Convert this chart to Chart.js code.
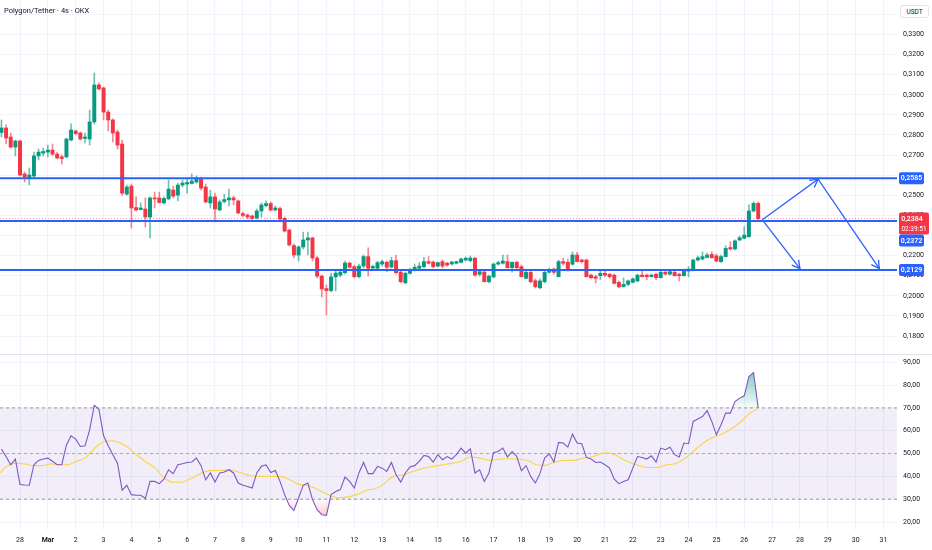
<!DOCTYPE html>
<html><head><meta charset="utf-8">
<script src="https://cdn.jsdelivr.net/npm/chart.js@4.4.0/dist/chart.umd.min.js"></script>
<style>
html,body{margin:0;padding:0;background:#fff;width:932px;height:550px;overflow:hidden;font-family:Roboto,"Noto Sans",sans-serif}
#top{position:absolute;left:0;top:0}
#bot{position:absolute;left:0;top:354px}
#sep{position:absolute;left:0;top:354px;width:932px;height:1px;background:#e0e3eb}
#title{position:absolute;left:4px;top:6px;font-size:7.5px;color:#131722;white-space:nowrap}
#unit{position:absolute;left:900px;top:5px;width:29px;height:13px;border:1px solid #e0e3eb;border-radius:3px;background:#fff;font-size:6.5px;color:#131722;text-align:center;line-height:13px;box-sizing:border-box}
</style></head><body>
<canvas id="top" width="932" height="354"></canvas>
<canvas id="bot" width="932" height="196"></canvas>
<div id="sep"></div>
<div id="title">Polygon/Tether · 4s · OKX</div>
<div id="unit">USDT</div>
<script>
// ---- data ----
const candleStart = -4; // 4h candle index, 0 = Feb 28 00:00
const opens = [
0.2812,0.2835,0.2790,0.2740,0.2770,0.2606,0.2586,0.2596,0.2696,0.2710,0.2715,0.2725,0.2705,0.2691,
0.2691,0.2775,0.2820,0.2810,0.2783,0.2780,0.2865,0.3049,0.3034,0.2914,
0.2875,0.2815,0.2755,0.2506,0.2546,0.2439,0.2429,0.2432,0.2392,0.2487,
0.2487,0.2462,0.2482,0.2526,0.2501,0.2551,0.2556,0.2559,0.2566,0.2581,
0.2541,0.2462,0.2492,0.2427,0.2469,0.2477,0.2487,0.2472,0.2409,0.2402,
0.2397,0.2387,0.2422,0.2449,0.2459,0.2427,0.2434,0.2385,0.2327,0.2250,
0.2203,0.2243,0.2278,0.2288,0.2188,0.2098,0.2036,0.2026,0.2094,0.2103,
0.2115,0.2163,0.2145,0.2095,0.2148,0.2195,0.2138,0.2137,0.2158,0.2167,
0.2143,0.2175,0.2118,0.2065,0.2112,0.2128,0.2137,0.2145,0.2170,0.2168,
0.2148,0.2170,0.2162,0.2158,0.2162,0.2167,0.2178,0.2175,0.2187,0.2107,
0.2118,0.2070,0.2094,0.2158,0.2162,0.2170,0.2140,0.2167,0.2145,0.2087,
0.2117,0.2075,0.2040,0.2070,0.2117,0.2133,0.2095,0.2170,0.2167,0.2157,
0.2203,0.2178,0.2178,0.2103,0.2095,0.2100,0.2112,0.2107,0.2103,0.2067,
0.2045,0.2057,0.2067,0.2074,0.2103,0.2103,0.2095,0.2107,0.2090,0.2117,
0.2108,0.2117,0.2107,0.2100,0.2123,0.2128,0.2178,0.2183,0.2191,0.2206,
0.2199,0.2170,0.2195,0.2240,0.2233,0.2278,0.2286,0.2294,0.2422,0.2460];
const highs = [
0.2875,0.2850,0.2810,0.2775,0.2775,0.2616,0.2636,0.2715,0.2730,0.2735,0.2750,0.2755,0.2715,0.2700,
0.2785,0.2855,0.2825,0.2815,0.2810,0.2924,0.3108,0.3059,0.3039,0.2924,
0.2880,0.2825,0.2775,0.2551,0.2556,0.2492,0.2462,0.2487,0.2492,0.2516,
0.2516,0.2492,0.2576,0.2546,0.2561,0.2576,0.2586,0.2606,0.2596,0.2591,
0.2556,0.2526,0.2511,0.2477,0.2506,0.2531,0.2496,0.2477,0.2417,0.2407,
0.2402,0.2432,0.2462,0.2472,0.2467,0.2447,0.2442,0.2392,0.2332,0.2258,
0.2248,0.2317,0.2317,0.2292,0.2198,0.2103,0.2054,0.2113,0.2128,0.2133,
0.2173,0.2168,0.2153,0.2158,0.2203,0.2239,0.2153,0.2173,0.2178,0.2173,
0.2191,0.2203,0.2123,0.2118,0.2138,0.2158,0.2165,0.2191,0.2195,0.2173,
0.2168,0.2178,0.2168,0.2173,0.2173,0.2188,0.2193,0.2198,0.2193,0.2128,
0.2123,0.2103,0.2163,0.2173,0.2203,0.2203,0.2168,0.2173,0.2153,0.2123,
0.2123,0.2084,0.2084,0.2123,0.2138,0.2138,0.2178,0.2187,0.2183,0.2218,
0.2216,0.2183,0.2183,0.2108,0.2103,0.2128,0.2128,0.2113,0.2108,0.2074,
0.2089,0.2079,0.2089,0.2108,0.2123,0.2108,0.2108,0.2113,0.2123,0.2123,
0.2128,0.2123,0.2113,0.2133,0.2145,0.2183,0.2198,0.2219,0.2213,0.2219,
0.2208,0.2203,0.2249,0.2269,0.2278,0.2297,0.2344,0.2452,0.2468,0.2467];
const lows = [
0.2790,0.2755,0.2735,0.2696,0.2596,0.2566,0.2551,0.2586,0.2676,0.2696,0.2691,0.2696,0.2681,0.2656,
0.2686,0.2770,0.2800,0.2775,0.2760,0.2750,0.2855,0.3024,0.2875,0.2820,
0.2765,0.2730,0.2501,0.2501,0.2337,0.2422,0.2427,0.2342,0.2288,0.2437,
0.2462,0.2457,0.2477,0.2487,0.2472,0.2541,0.2511,0.2556,0.2561,0.2526,
0.2462,0.2437,0.2367,0.2422,0.2462,0.2447,0.2452,0.2407,0.2392,0.2382,
0.2377,0.2382,0.2392,0.2442,0.2422,0.2422,0.2367,0.2317,0.2248,0.2188,
0.2173,0.2233,0.2203,0.2173,0.2089,0.1994,0.1905,0.2019,0.2024,0.2094,
0.2108,0.2138,0.2089,0.2089,0.2138,0.2098,0.2128,0.2128,0.2148,0.2120,
0.2138,0.2108,0.2064,0.2059,0.2108,0.2123,0.2133,0.2138,0.2158,0.2138,
0.2143,0.2138,0.2148,0.2153,0.2158,0.2163,0.2173,0.2168,0.2098,0.2098,
0.2069,0.2064,0.2089,0.2153,0.2158,0.2138,0.2118,0.2128,0.2094,0.2084,
0.2064,0.2039,0.2034,0.2064,0.2113,0.2108,0.2094,0.2153,0.2123,0.2153,
0.2168,0.2163,0.2094,0.2084,0.2064,0.2079,0.2094,0.2089,0.2059,0.2039,
0.2044,0.2050,0.2064,0.2069,0.2094,0.2079,0.2094,0.2079,0.2089,0.2103,
0.2103,0.2098,0.2074,0.2098,0.2095,0.2123,0.2173,0.2178,0.2188,0.2188,
0.2168,0.2166,0.2193,0.2228,0.2228,0.2273,0.2283,0.2292,0.2417,0.2377];
const closes = [
0.2835,0.2785,0.2740,0.2770,0.2601,0.2591,0.2601,0.2696,0.2715,0.2718,0.2725,0.2705,0.2686,0.2683,
0.2780,0.2825,0.2807,0.2780,0.2790,0.2865,0.3049,0.3029,0.2914,0.2875,
0.2810,0.2750,0.2511,0.2541,0.2437,0.2427,0.2437,0.2392,0.2487,0.2482,
0.2464,0.2484,0.2531,0.2496,0.2551,0.2561,0.2564,0.2571,0.2586,0.2536,
0.2467,0.2492,0.2432,0.2467,0.2479,0.2487,0.2477,0.2412,0.2400,0.2392,
0.2385,0.2422,0.2452,0.2459,0.2427,0.2437,0.2382,0.2322,0.2253,0.2203,
0.2243,0.2278,0.2288,0.2188,0.2098,0.2034,0.2026,0.2094,0.2113,0.2118,
0.2163,0.2142,0.2095,0.2148,0.2195,0.2137,0.2146,0.2165,0.2170,0.2142,
0.2175,0.2115,0.2070,0.2112,0.2128,0.2142,0.2148,0.2170,0.2162,0.2145,
0.2165,0.2148,0.2153,0.2168,0.2170,0.2183,0.2187,0.2188,0.2103,0.2120,
0.2070,0.2098,0.2158,0.2165,0.2173,0.2140,0.2167,0.2140,0.2095,0.2117,
0.2070,0.2045,0.2074,0.2117,0.2128,0.2117,0.2170,0.2162,0.2128,0.2203,
0.2170,0.2170,0.2095,0.2090,0.2087,0.2112,0.2103,0.2095,0.2062,0.2045,
0.2057,0.2074,0.2084,0.2103,0.2095,0.2095,0.2103,0.2090,0.2117,0.2108,
0.2120,0.2100,0.2100,0.2128,0.2133,0.2178,0.2189,0.2195,0.2203,0.2189,
0.2173,0.2195,0.2236,0.2233,0.2273,0.2289,0.2302,0.2422,0.2460,0.2384];
const rsiValues = [
52.0,48.7,45.1,47.6,36.4,36.2,36.1,45.1,47.0,47.6,48.0,46.6,45.1,45.1,
53.8,57.8,56.3,53.1,53.4,60.4,71.2,69.4,57.8,53.4,
49.5,45.8,33.9,36.1,32.0,31.7,31.7,30.4,37.8,37.8,
36.8,38.8,42.9,41.2,45.1,45.5,46.1,46.3,48.0,44.7,
38.5,41.5,37.5,41.5,41.9,42.9,41.5,37.1,36.1,35.6,
34.9,41.5,44.4,45.0,41.7,42.6,37.8,32.0,27.3,25.1,
30.5,36.1,37.1,29.8,25.4,23.2,22.9,32.0,33.4,34.2,
39.7,37.8,34.9,41.5,46.1,41.2,41.2,44.4,43.6,42.2,
46.1,40.7,37.5,41.5,44.1,44.7,46.6,49.2,48.7,46.3,
49.5,47.3,48.7,47.6,49.5,52.4,50.2,52.1,41.5,42.9,
37.8,41.5,50.5,50.9,52.4,48.5,50.9,48.7,42.5,44.7,
40.0,37.1,41.2,48.0,49.9,46.3,54.9,54.6,52.8,58.5,
54.6,54.3,48.3,47.6,46.1,46.3,45.1,43.6,38.8,36.8,
37.8,38.5,43.6,48.7,48.3,47.6,49.0,46.3,52.4,51.7,
52.8,49.5,48.5,54.6,54.3,64.1,65.1,66.2,68.8,64.1,
58.2,62.6,67.7,67.7,72.8,74.3,75.3,83.7,85.5,70.0];
const rsiMaK = [-4.3,-2.9,-1.1,1.1,2.9,5.0,6.5,8.6,10.1,12.2,14.0,15.4,17.2,19.4,20.8,23.0,25.1,27.3,29.1,30.9,32.7,34.5,36.6,38.8,40.9,43.1,45.2,47.4,49.5,51.7,53.8,56.0,58.1,59.9,61.7,63.5,65.3,67.1,68.9,70.7,72.5,74.7,76.5,78.2,80.4,82.6,84.7,86.9,89.0,91.2,93.3,95.1,96.9,99.1,101.2,103.4,105.5,107.7,109.8,111.3,113.1,114.9,117.0,119.2,121.3,123.5,125.6,126.7,128.5,130.7,132.8,135.0,137.1,139.3,141.4,143.6,145.0,146.4,148.6,150.8,152.9,155.1,157.2,159.0];
const rsiMaValues = [41.5,44.4,45.8,45.4,44.7,44.7,45.5,45.1,45.1,46.6,48.0,50.9,54.3,55.6,55.3,53.1,49.5,46.1,43.6,39.7,37.5,37.4,38.8,41.2,42.5,42.6,42.9,41.7,40.4,40.0,40.0,40.0,38.5,36.6,36.1,34.9,33.0,31.3,30.5,31.0,32.0,33.9,34.6,36.4,40.0,40.7,42.2,43.6,44.4,45.1,45.8,46.6,48.5,48.0,47.0,47.6,47.7,47.6,46.6,45.1,44.8,46.1,47.0,47.0,48.0,48.7,50.2,50.2,49.2,46.6,45.1,43.9,43.9,45.1,45.8,48.5,50.9,53.4,56.5,58.2,60.4,63.6,67.7,69.9];
const levelValues = [0.2585, 0.2372, 0.2129];
const currentPrice = 0.2384;
const countdown = '02:39:51';
const arrowAK = [159.9, 171.9, 185.1], arrowAP = [0.2378, 0.2580, 0.2135];
const arrowBK = [159.9, 168.0], arrowBP = [0.2378, 0.2135];
const dayTickIndex = [0,6,12,18,24,30,36,42,48,54,60,66,72,78,84,90,96,102,108,114,120,126,132,138,144,150,156,162,168,174,180,186];
const dayLabels = ['28','Mar','2','3','4','5','6','7','8','9','10','11','12','13','14','15','16','17','18','19','20','21','22','23','24','25','26','27','28','29','30','31'];
const priceTickValues = [0.18,0.19,0.20,0.21,0.22,0.23,0.24,0.25,0.26,0.27,0.28,0.29,0.30,0.31,0.32,0.33,0.34];
const priceTickLabels = ['0,1800','0,1900','0,2000','0,2100','0,2200','','0,2400','0,2500','','0,2700','0,2800','0,2900','0,3000','0,3100','0,3200','0,3300',''];
const rsiTickValues = [20,30,40,50,60,70,80,90];
const rsiTickLabels = ['20,00','30,00','40,00','50,00','60,00','70,00','80,00','90,00'];
const rsiBands = [70, 50, 30];
const xRange = [-4.31, 188.9];
const priceRange = [0.17105, 0.34716];
const rsiRange = [16.5, 93.63];

// ---- styles ----
Chart.defaults.font.family = 'Roboto, "Noto Sans", sans-serif';
const GREEN = '#089981', RED = '#F23645', BLUE = '#2962FF', GRID = '#f0f3fa', TXT = '#131722';
const kIdx = opens.map((_, i) => candleStart + i);
const isUp = opens.map((o, i) => closes[i] >= o);
const hline = v => [{x: xRange[0], y: v}, {x: xRange[1], y: v}];
const fmt = v => v.toFixed(4).replace('.', ',');

const overlay = {
  id: 'overlay',
  afterDatasetsDraw(chart) {
    const c = chart.ctx, xs = chart.scales.x, ys = chart.scales.y;
    c.save();
    c.strokeStyle = BLUE; c.lineWidth = 1.3;
    [[arrowAK, arrowAP], [arrowBK, arrowBP]].forEach(([ks, ps]) => {
      for (let i = 1; i < ks.length; i++) {
        const x0 = xs.getPixelForValue(ks[i-1]), y0 = ys.getPixelForValue(ps[i-1]);
        const x1 = xs.getPixelForValue(ks[i]), y1 = ys.getPixelForValue(ps[i]);
        const a = Math.atan2(y1 - y0, x1 - x0), L = 9;
        c.beginPath();
        c.moveTo(x1 - L * Math.cos(a - 0.5), y1 - L * Math.sin(a - 0.5));
        c.lineTo(x1, y1);
        c.lineTo(x1 - L * Math.cos(a + 0.5), y1 - L * Math.sin(a + 0.5));
        c.stroke();
      }
    });
    c.restore();
  },
  afterDraw(chart) {
    const c = chart.ctx, ys = chart.scales.y;
    const bx = 899;
    c.save();
    c.font = '600 7px Roboto, "Noto Sans", sans-serif';
    c.textAlign = 'center'; c.textBaseline = 'middle';
    const box = (y, w, h, col) => { c.fillStyle = col; c.beginPath(); c.roundRect(bx, y, w, h, 2); c.fill(); };
    let y = ys.getPixelForValue(levelValues[0]);
    box(y - 6, 25, 12, BLUE); c.fillStyle = '#fff'; c.fillText(fmt(levelValues[0]), bx + 12.5, y + 0.5);
    const yc = ys.getPixelForValue(currentPrice);
    box(yc - 6, 30, 22, RED); c.fillStyle = '#fff';
    c.fillText(fmt(currentPrice), bx + 13, yc + 0.5);
    c.font = '400 6.5px Roboto, "Noto Sans", sans-serif';
    c.fillText(countdown, bx + 15, yc + 10.5);
    c.font = '600 7px Roboto, "Noto Sans", sans-serif';
    box(yc + 16, 25, 12, BLUE); c.fillStyle = '#fff'; c.fillText(fmt(levelValues[1]), bx + 12.5, yc + 22.5);
    y = ys.getPixelForValue(levelValues[2]);
    box(y - 6, 25, 12, BLUE); c.fillStyle = '#fff'; c.fillText(fmt(levelValues[2]), bx + 12.5, y + 0.5);
    c.restore();
  }
};

const dayTicks = s => { s.ticks = dayTickIndex.map(v => ({value: v})); };

new Chart(document.getElementById('top'), {
  type: 'bar',
  data: { datasets: [
    ...levelValues.map(v => ({type: 'line', data: hline(v), borderColor: BLUE, borderWidth: 2, pointRadius: 0, order: 0})),
    {type: 'line', data: arrowAK.map((k, i) => ({x: k, y: arrowAP[i]})), borderColor: BLUE, borderWidth: 1.3, pointRadius: 0, tension: 0, order: 0},
    {type: 'line', data: arrowBK.map((k, i) => ({x: k, y: arrowBP[i]})), borderColor: BLUE, borderWidth: 1.3, pointRadius: 0, tension: 0, order: 0},
    {type: 'line', data: hline(currentPrice), borderColor: 'rgba(242,54,69,0.55)', borderWidth: 1, borderDash: [1, 2], pointRadius: 0, order: 4},
    {type: 'bar', data: kIdx.map((k, i) => ({x: k, y: [opens[i], closes[i]]})), backgroundColor: isUp.map(u => u ? GREEN : RED), barThickness: 3.3, grouped: false, order: 2},
    {type: 'bar', data: kIdx.map((k, i) => ({x: k, y: [lows[i], highs[i]]})), backgroundColor: isUp.map(u => u ? 'rgba(8,153,129,0.6)' : 'rgba(242,54,69,0.6)'), barThickness: 1, grouped: false, order: 3}
  ]},
  options: {
    responsive: false, animation: false, events: [],
    layout: {padding: 0},
    plugins: {legend: {display: false}, tooltip: {enabled: false}},
    scales: {
      x: {type: 'linear', min: xRange[0], max: xRange[1], offset: false,
          grid: {color: GRID, drawTicks: false, offset: false}, border: {display: false},
          ticks: {display: false}, afterBuildTicks: dayTicks,
          afterFit: s => { s.height = 0; s.paddingLeft = 0; s.paddingRight = 0; }},
      y: {type: 'linear', position: 'right', min: priceRange[0], max: priceRange[1],
          grid: {color: GRID, drawTicks: false}, border: {display: false},
          ticks: {padding: 6, color: TXT, font: {size: 7}, callback: (v, i) => priceTickLabels[i]},
          afterBuildTicks: s => { s.ticks = priceTickValues.map(v => ({value: v})); },
          afterFit: s => { s.width = 35; s.paddingTop = 0; s.paddingBottom = 0; }}
    }
  },
  plugins: [overlay]
});

const botCanvas = document.getElementById('bot');
const bctx = botCanvas.getContext('2d');
const obGrad = bctx.createLinearGradient(0, 14, 0, 54);
obGrad.addColorStop(0, 'rgba(8,153,129,0.55)');
obGrad.addColorStop(1, 'rgba(8,153,129,0.03)');
const osGrad = bctx.createLinearGradient(0, 146, 0, 172);
osGrad.addColorStop(0, 'rgba(242,54,69,0.03)');
osGrad.addColorStop(1, 'rgba(242,54,69,0.4)');

const rsiPts = kIdx.map((k, i) => ({x: k, y: rsiValues[i]}));
new Chart(botCanvas, {
  type: 'line',
  data: { datasets: [
    {data: rsiPts, borderColor: '#7E57C2', borderWidth: 1.1, pointRadius: 0, tension: 0,
     fill: {target: {value: 70}, above: obGrad, below: 'rgba(0,0,0,0)'}, order: 0},
    {data: rsiPts, borderColor: 'rgba(0,0,0,0)', borderWidth: 0, pointRadius: 0, tension: 0,
     fill: {target: {value: 30}, above: 'rgba(0,0,0,0)', below: osGrad}, order: 2},
    {data: rsiMaK.map((k, i) => ({x: k, y: rsiMaValues[i]})), borderColor: 'rgba(251,210,60,0.95)', borderWidth: 1.1, pointRadius: 0, cubicInterpolationMode: 'monotone', order: 1},
    {data: hline(rsiBands[0]), borderColor: '#9598a1', borderWidth: 1, borderDash: [3, 3], pointRadius: 0,
     fill: {target: {value: rsiBands[2]}}, backgroundColor: 'rgba(126,87,194,0.1)', order: 5},
    {data: hline(rsiBands[1]), borderColor: 'rgba(149,152,161,0.75)', borderWidth: 1, borderDash: [3, 3], pointRadius: 0, order: 5},
    {data: hline(rsiBands[2]), borderColor: '#9598a1', borderWidth: 1, borderDash: [3, 3], pointRadius: 0, order: 5}
  ]},
  options: {
    responsive: false, animation: false, events: [],
    layout: {padding: 0},
    plugins: {legend: {display: false}, tooltip: {enabled: false}},
    scales: {
      x: {type: 'linear', min: xRange[0], max: xRange[1], offset: false,
          grid: {color: GRID, drawTicks: false, offset: false}, border: {display: false},
          ticks: {padding: 6, color: TXT, maxRotation: 0, autoSkip: false,
                  font: ctx => ({size: 7, weight: dayLabels[ctx.index] === 'Mar' ? 'bold' : 'normal'}),
                  callback: (v, i) => dayLabels[i]},
          afterBuildTicks: dayTicks,
          afterFit: s => { s.height = 20; s.paddingLeft = 0; s.paddingRight = 0; }},
      y: {type: 'linear', position: 'right', min: rsiRange[0], max: rsiRange[1],
          grid: {color: GRID, drawTicks: false}, border: {display: false},
          ticks: {padding: 6, color: TXT, font: {size: 7}, callback: (v, i) => rsiTickLabels[i]},
          afterBuildTicks: s => { s.ticks = rsiTickValues.map(v => ({value: v})); },
          afterFit: s => { s.width = 35; s.paddingTop = 0; s.paddingBottom = 0; }}
    }
  }
});
</script>
</body></html>
